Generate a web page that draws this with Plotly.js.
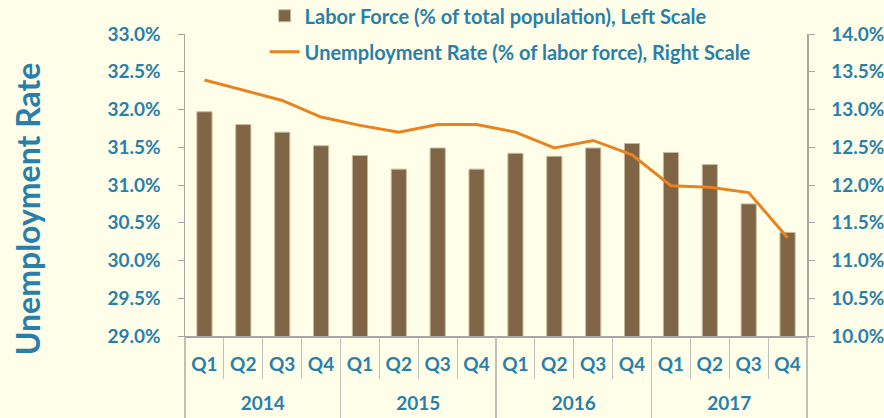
<!DOCTYPE html>
<html>
<head>
<meta charset="utf-8">
<script src="https://cdn.plot.ly/plotly-3.0.1.min.js"></script>
<style>
html,body{margin:0;padding:0;background:#FFFFE9;}
#chart{width:884px;height:418px;}
</style>
</head>
<body>
<div id="chart"></div>
<script>
const years = ["2014","2014","2014","2014","2015","2015","2015","2015","2016","2016","2016","2016","2017","2017","2017","2017"];
const quarters = ["Q1","Q2","Q3","Q4","Q1","Q2","Q3","Q4","Q1","Q2","Q3","Q4","Q1","Q2","Q3","Q4"];
const laborForce = [31.97,31.80,31.70,31.52,31.39,31.21,31.49,31.21,31.42,31.38,31.49,31.55,31.43,31.27,30.75,30.37];
const unemployment = [13.39,13.25,13.12,12.90,12.79,12.70,12.80,12.80,12.70,12.49,12.59,12.40,11.99,11.97,11.90,11.30];
const leftTicks = [29,29.5,30,30.5,31,31.5,32,32.5,33];
const rightTicks = [10,10.5,11,11.5,12,12.5,13,13.5,14];
const leftTickText = leftTicks.map(v => v.toFixed(1) + "%");
const rightTickText = rightTicks.map(v => v.toFixed(1) + "%");

// category positions derived from the category arrays
const idx = quarters.map((_, i) => i);
const qBounds = quarters.map((_, i) => i - 0.5).concat([quarters.length - 0.5]);
const yearNames = [...new Set(years)];
const yearCenters = yearNames.map(y => {
  const ii = idx.filter(i => years[i] === y);
  return (ii[0] + ii[ii.length - 1]) / 2;
});
const yearBounds = yearNames.map(y => years.indexOf(y) - 0.5).concat([years.length - 0.5]);
const xRange = [-0.5, quarters.length - 0.5];

const blue = "#2A7FAA";
const grey = "#BFBFBF";
const font = "Lato, 'Open Sans', sans-serif";
const tf = {family: font, size: 19, color: blue, weight: 700};

const data = [
  {
    type: "bar",
    x: idx,
    y: laborForce,
    name: "Labor Force (% of total population), Left Scale",
    marker: {color: "#806446", line: {color: "#C9B99C", width: 1}},
    legendgroup: "a",
    xaxis: "x", yaxis: "y"
  },
  {
    type: "scatter",
    mode: "lines",
    x: idx,
    y: unemployment,
    name: "Unemployment Rate (% of labor force), Right Scale",
    line: {color: "#E8831E", width: 3},
    legendgroup: "b",
    xaxis: "x", yaxis: "y2"
  },
  {
    // carrier for the year-level axis (draws nothing)
    type: "scatter",
    mode: "none",
    x: idx,
    y: laborForce,
    showlegend: false,
    hoverinfo: "skip",
    xaxis: "x2", yaxis: "y"
  }
];

const layout = {
  width: 884, height: 418,
  paper_bgcolor: "#FFFFE9",
  plot_bgcolor: "#FFFFE9",
  margin: {l: 185, r: 77, t: 34, b: 82, autoexpand: false},
  bargap: 0.61,
  font: {family: font, color: blue, size: 19},
  showlegend: true,
  legend: {
    x: 0.128, y: 1.125, xanchor: "left", yanchor: "top",
    bgcolor: "rgba(0,0,0,0)",
    font: {family: font, size: 20, color: blue, weight: 700},
    tracegroupgap: 7,
    traceorder: "grouped"
  },
  xaxis: {
    range: xRange,
    tickmode: "array", tickvals: idx, ticktext: quarters,
    ticks: "",
    showline: true, linecolor: "#A6A6A6", linewidth: 1.5,
    minor: {tickmode: "array", tickvals: qBounds, ticks: "outside", ticklen: 41, tickcolor: grey, tickwidth: 1.2, showgrid: false},
    ticklabelstandoff: 11,
    tickfont: tf,
    showgrid: false, zeroline: false
  },
  xaxis2: {
    range: xRange,
    overlaying: "x", anchor: "y", side: "bottom",
    tickmode: "array", tickvals: yearCenters, ticktext: yearNames,
    ticks: "",
    showline: false,
    minor: {tickmode: "array", tickvals: yearBounds, ticks: "outside", ticklen: 82, tickcolor: grey, tickwidth: 1.2, showgrid: false},
    ticklabelstandoff: 54,
    tickfont: tf,
    showgrid: false, zeroline: false
  },
  yaxis: {
    range: [29, 33],
    tickvals: leftTicks, ticktext: leftTickText,
    showline: true, linecolor: "#A6A6A6", linewidth: 1.5,
    ticks: "outside", ticklen: 6, tickcolor: "#A6A6A6",
    ticklabelstandoff: 13,
    showgrid: false, zeroline: false,
    tickfont: tf
  },
  yaxis2: {
    range: [10, 14],
    tickvals: rightTicks, ticktext: rightTickText,
    overlaying: "y", side: "right",
    showline: true, linecolor: "#A6A6A6", linewidth: 1.5,
    ticks: "outside", ticklen: 6, tickcolor: "#A6A6A6",
    ticklabelstandoff: 13,
    showgrid: false, zeroline: false,
    tickfont: tf
  },
  annotations: [{
    text: "Unemployment Rate",
    xref: "paper", yref: "paper",
    x: -0.254, y: 0.42, xanchor: "center", yanchor: "middle",
    textangle: -90, showarrow: false,
    font: {family: font, size: 32, color: blue, weight: 700}
  }]
};

Plotly.newPlot("chart", data, layout, {displayModeBar: false, staticPlot: true});
</script>
</body>
</html>
